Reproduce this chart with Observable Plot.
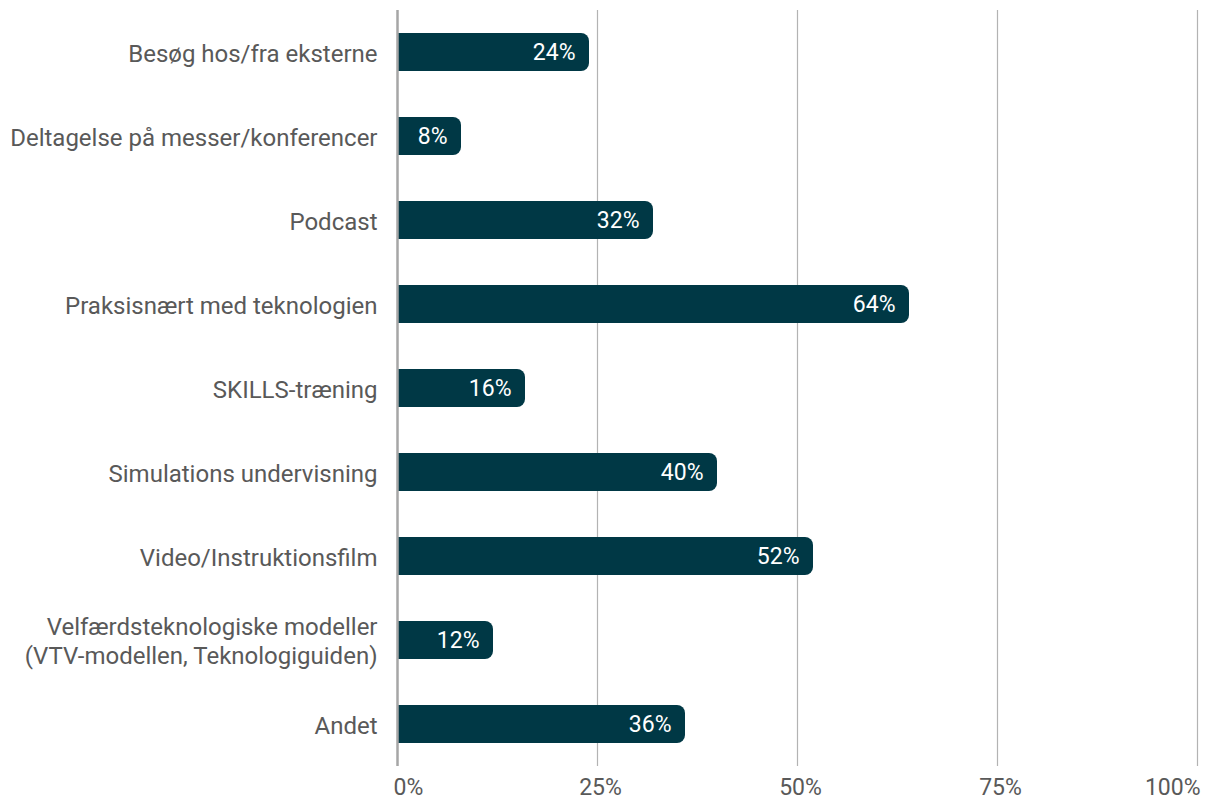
<!DOCTYPE html>
<html>
<head>
<meta charset="utf-8">
<script src="https://cdn.jsdelivr.net/npm/d3@7"></script>
<script src="https://cdn.jsdelivr.net/npm/@observablehq/plot@0.6"></script>
<style>
  html, body { margin: 0; padding: 0; background: #fff; }
  #chart svg { display: block; }
</style>
</head>
<body>
<div id="chart"></div>
<script>
const categories = [
  "Besøg hos/fra eksterne",
  "Deltagelse på messer/konferencer",
  "Podcast",
  "Praksisnært med teknologien",
  "SKILLS-træning",
  "Simulations undervisning",
  "Video/Instruktionsfilm",
  "Velfærdsteknologiske modeller\n(VTV-modellen, Teknologiguiden)",
  "Andet"
];
const values = [24, 8, 32, 64, 16, 40, 52, 12, 36];
const xTicks = [0, 25, 50, 75, 100];
const xTickLabels = ["0%", "25%", "50%", "75%", "100%"];

const data = categories.map((c, i) => ({category: c, value: values[i]}));
const tickData = xTicks.map((t, i) => ({t, label: xTickLabels[i]}));
const barColor = "#003845";
const textColor = "#595959";

const chart = Plot.plot({
  width: 1212,
  height: 803,
  marginLeft: 397,
  marginRight: 15,
  marginTop: 10,
  marginBottom: 37,
  style: {fontFamily: "Roboto, sans-serif", background: "#fff"},
  x: {domain: [0, 100], axis: null},
  y: {domain: categories, paddingInner: 0.546, paddingOuter: 0.273, axis: null},
  marks: [
    Plot.ruleX(xTicks.filter(d => d > 0), {stroke: "#b3b3b3", strokeWidth: 1.2}),
    Plot.barX(data, {y: "category", x1: 0, x2: "value", fill: barColor, rx: 8, insetLeft: 1}),
    Plot.barX(data, {y: "category", x1: 0, x2: d => d.value / 2, fill: barColor, insetLeft: 1}),
    Plot.ruleX([0], {stroke: "#a6a6a6", strokeWidth: 2.5}),
    Plot.text(data, {y: "category", x: "value", text: d => d.value + "%", textAnchor: "end", dx: -14, fill: "#fff", fontSize: 23}),
    Plot.text(categories, {y: d => d, frameAnchor: "left", text: d => d, textAnchor: "end", dx: -20, fill: textColor, fontSize: 24, lineHeight: 1.2}),
    Plot.text(tickData.filter(d => d.t > 0 && d.t < 100), {x: "t", text: "label", frameAnchor: "bottom", dy: 28, dx: 3, fill: textColor, fontSize: 23}),
    Plot.text(tickData.filter(d => d.t === 0), {x: "t", text: "label", frameAnchor: "bottom", dy: 28, dx: -4, textAnchor: "start", fill: textColor, fontSize: 23}),
    Plot.text(tickData.filter(d => d.t === 100), {x: "t", text: "label", frameAnchor: "bottom", dy: 28, dx: 3, textAnchor: "end", fill: textColor, fontSize: 23})
  ]
});
document.getElementById("chart").appendChild(chart);
</script>
</body>
</html>
